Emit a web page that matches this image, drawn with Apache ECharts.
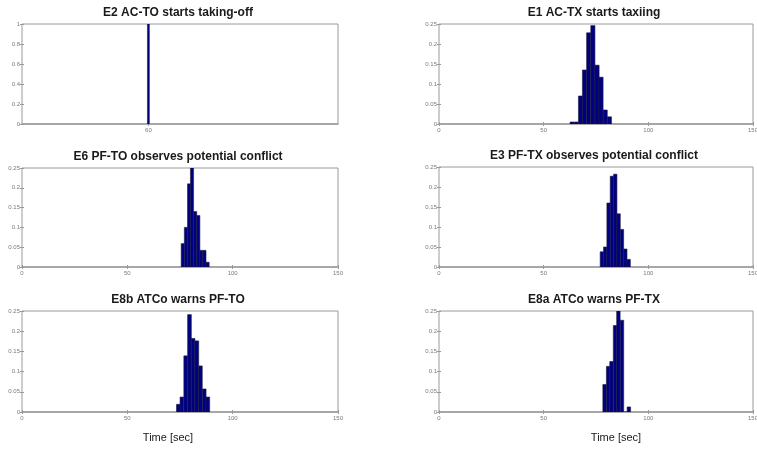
<!DOCTYPE html>
<html>
<head>
<meta charset="utf-8">
<script src="https://cdn.jsdelivr.net/npm/echarts@6/dist/echarts.min.js"></script>
<style>
  html, body { margin: 0; padding: 0; background: #fff; overflow: hidden; }
  #chart { width: 757px; height: 449px; }
</style>
</head>
<body>
<div id="chart"></div>
<script>
  // panel titles, left column then right column, row by row
  var titles = [
    'E2 AC-TO starts taking-off',
    'E1 AC-TX starts taxiing',
    'E6 PF-TO observes potential conflict',
    'E3 PF-TX observes potential conflict',
    'E8b ATCo warns PF-TO',
    'E8a ATCo warns PF-TX'
  ]
  var xTicks = [0, 50, 100, 150]
  var xTicksTakeoff = [60]

  // bin centres (sec) and probabilities
  var e2Time = [60]
  var e2Prob = [1]
  var e1Time = [63.6, 65.6, 67.6, 69.5, 71.5, 73.5, 75.5, 77.4, 79.4, 81.4]
  var e1Prob = [0.005, 0.005, 0.07, 0.135, 0.228, 0.246, 0.147, 0.117, 0.035, 0.018]
  var e6Time = [76.3, 77.8, 79.3, 80.7, 82.2, 83.7, 85.1, 86.6, 88.1]
  var e6Prob = [0.059, 0.1, 0.21, 0.25, 0.14, 0.13, 0.042, 0.042, 0.012]
  var e3Time = [77.8, 79.4, 81.0, 82.6, 84.2, 85.8, 87.4, 89.0, 90.6]
  var e3Prob = [0.038, 0.05, 0.16, 0.227, 0.232, 0.133, 0.094, 0.045, 0.019]
  var e8bTime = [74.2, 75.9, 77.7, 79.5, 81.2, 83.0, 84.7, 86.5, 88.2]
  var e8bProb = [0.019, 0.037, 0.139, 0.241, 0.182, 0.176, 0.114, 0.057, 0.037]
  var e8aTime = [79.1, 80.8, 82.4, 84.1, 85.7, 87.4, 89.0, 90.7]
  var e8aProb = [0.068, 0.113, 0.125, 0.214, 0.25, 0.227, 0, 0.0125]

  var panels = [
    { time: e2Time, prob: e2Prob, yMax: 1, yStep: 0.2, ticks: xTicksTakeoff, bw: 0.9 },
    { time: e1Time, prob: e1Prob, yMax: 0.25, yStep: 0.05, ticks: xTicks },
    { time: e6Time, prob: e6Prob, yMax: 0.25, yStep: 0.05, ticks: xTicks },
    { time: e3Time, prob: e3Prob, yMax: 0.25, yStep: 0.05, ticks: xTicks },
    { time: e8bTime, prob: e8bProb, yMax: 0.25, yStep: 0.05, ticks: xTicks },
    { time: e8aTime, prob: e8aProb, yMax: 0.25, yStep: 0.05, ticks: xTicks }
  ]

  // plot boxes in px (left, top, width, height)
  var boxes = [
    [22, 24, 316, 100],
    [439, 24, 314, 100],
    [22, 168, 316, 99],
    [439, 167, 314, 100],
    [22, 311, 316, 101],
    [439, 311, 314, 101]
  ]

  var fontFamily = 'Liberation Sans, Arial, sans-serif'
  var labelFont = { fontSize: 6, color: '#7a7a7a', fontFamily: fontFamily }
  var boxColor = '#9a9a9a'

  function renderBar (params, api) {
    var x = api.value(0)
    var w = api.value(2)
    var p0 = api.coord([x - w / 2, api.value(1)])
    var p1 = api.coord([x + w / 2, 0])
    return {
      type: 'rect',
      shape: { x: p0[0], y: p0[1], width: p1[0] - p0[0], height: p1[1] - p0[1] },
      style: { fill: '#000080', stroke: '#1c1c3c', lineWidth: 0.6 }
    }
  }

  var grid = []
  var xAxis = []
  var yAxis = []
  var series = []
  var title = []

  panels.forEach(function (p, i) {
    var b = boxes[i]
    grid.push({
      left: b[0], top: b[1], width: b[2], height: b[3],
      containLabel: false, outerBoundsMode: 'none',
      show: true, borderColor: boxColor, borderWidth: 1, backgroundColor: '#fff'
    })
    // bottom axis with labels
    xAxis.push({
      type: 'value', gridIndex: i, min: 0, max: 150, position: 'bottom',
      axisLine: { show: true, lineStyle: { color: boxColor, width: 1.5 } },
      axisTick: { show: true, inside: true, length: 2, lineStyle: { color: boxColor }, customValues: p.ticks },
      axisLabel: Object.assign({ margin: 3, customValues: p.ticks }, labelFont),
      splitLine: { show: false }
    })
    // mirrored top ticks
    xAxis.push({
      type: 'value', gridIndex: i, min: 0, max: 150, position: 'top',
      axisLine: { show: false },
      axisTick: { show: true, inside: true, length: 2, lineStyle: { color: boxColor }, customValues: p.ticks },
      axisLabel: { show: false },
      splitLine: { show: false }
    })
    yAxis.push({
      type: 'value', gridIndex: i, min: 0, max: p.yMax, interval: p.yStep, position: 'left',
      axisLine: { show: false },
      axisTick: { show: true, inside: true, length: 2, lineStyle: { color: boxColor } },
      axisLabel: Object.assign({ margin: 2 }, labelFont),
      splitLine: { show: false }
    })
    yAxis.push({
      type: 'value', gridIndex: i, min: 0, max: p.yMax, interval: p.yStep, position: 'right',
      axisLine: { show: false },
      axisTick: { show: true, inside: true, length: 2, lineStyle: { color: boxColor } },
      axisLabel: { show: false },
      splitLine: { show: false }
    })

    var n = p.time.length
    var binW = p.bw || (p.time[n - 1] - p.time[0]) / (n - 1)
    var data = p.time.map(function (t, k) { return [t, p.prob[k], binW] })
    series.push({
      type: 'custom',
      xAxisIndex: i * 2,
      yAxisIndex: i * 2,
      renderItem: renderBar,
      encode: { x: 0, y: 1 },
      clip: true,
      data: data
    })

    title.push({
      text: titles[i],
      left: b[0] + b[2] / 2 - 2,
      top: b[1] - 17,
      padding: 0,
      textAlign: 'center',
      textStyle: { fontSize: 12, fontWeight: 'bold', color: '#1a1a1a', fontFamily: fontFamily }
    })
  })

  // x-axis names under the bottom row
  ;[168, 616].forEach(function (cx) {
    title.push({
      text: 'Time [sec]',
      left: cx,
      top: 432,
      padding: 0,
      textAlign: 'center',
      textStyle: { fontSize: 11, fontWeight: 'normal', color: '#1a1a1a', fontFamily: fontFamily }
    })
  })

  var chart = echarts.init(document.getElementById('chart'))
  chart.setOption({
    animation: false,
    backgroundColor: '#fff',
    title: title,
    grid: grid,
    xAxis: xAxis,
    yAxis: yAxis,
    series: series
  })
</script>
</body>
</html>
